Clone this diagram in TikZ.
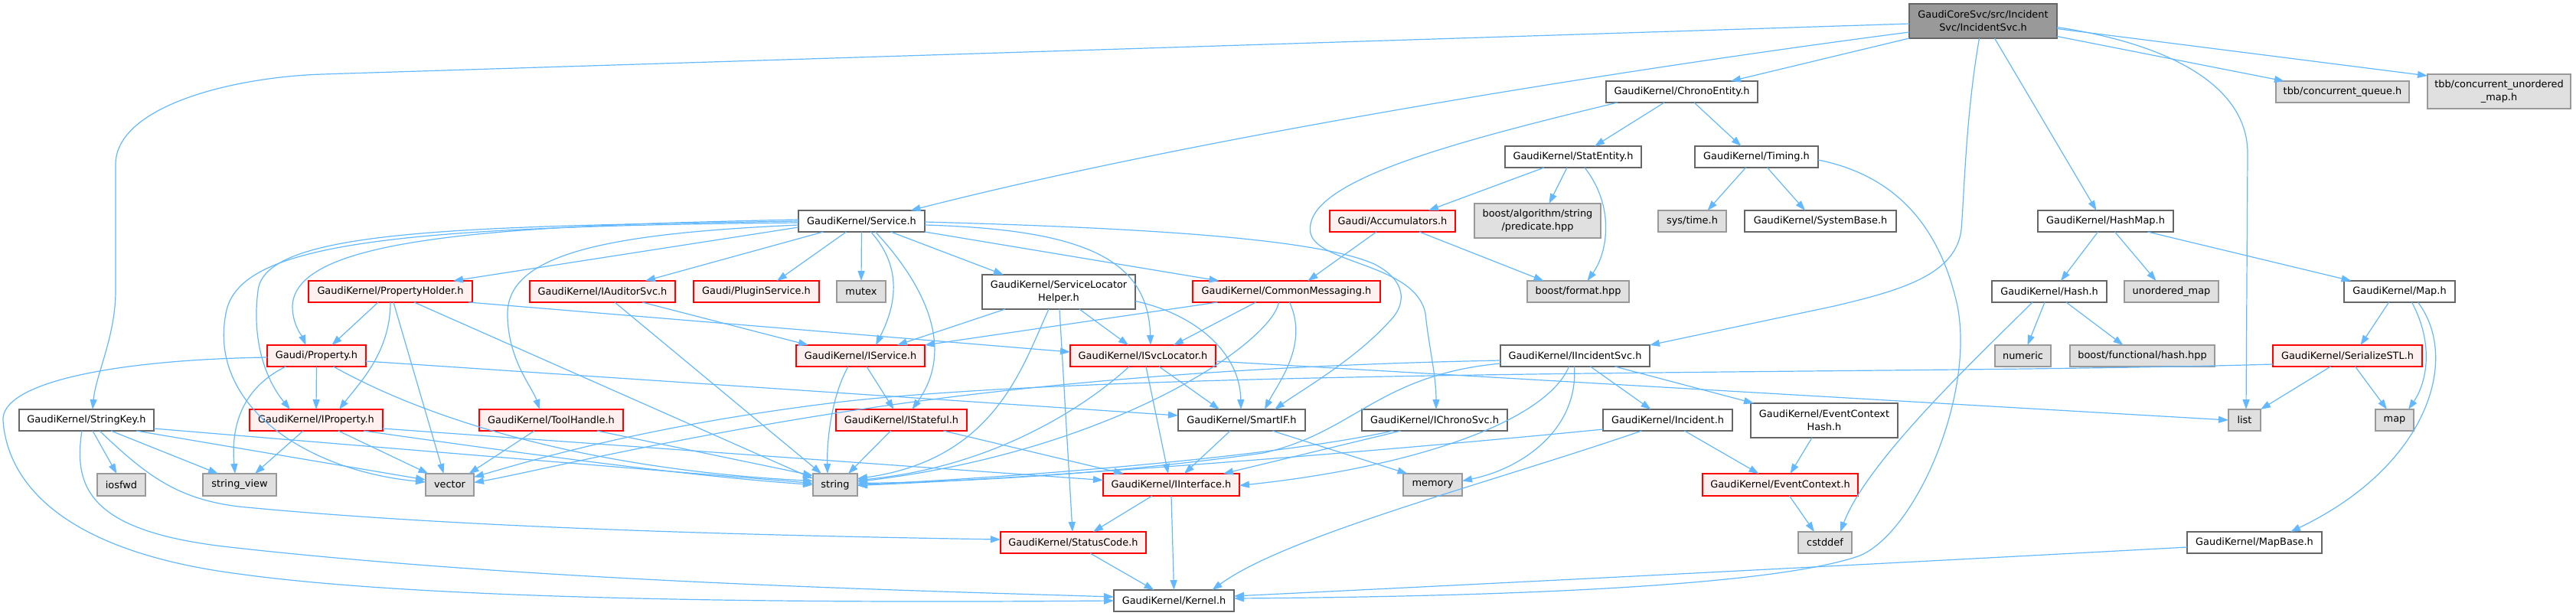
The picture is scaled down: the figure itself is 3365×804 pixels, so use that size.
\documentclass[tikz,border=0pt]{standalone}
\usepackage{fontspec}
\setmainfont{DejaVu Sans}
\usetikzlibrary{arrows.meta}
\definecolor{edgeblue}{HTML}{63B8FF}
\definecolor{nodegray}{HTML}{666666}
\definecolor{extdraw}{HTML}{999999}
\definecolor{extfill}{HTML}{E0E0E0}
\definecolor{truncfill}{HTML}{FFF0F0}
\definecolor{rootfill}{HTML}{999999}
\tikzset{
  nodebase/.style={draw, line width=1.3pt, minimum height=28pt, inner sep=0pt, outer sep=0pt,
    font=\fontsize{12.9}{16.7}\selectfont, align=center, text=black},
  nrm/.style={nodebase, draw=nodegray, fill=white},
  trunc/.style={nodebase, draw=red, fill=truncfill},
  extn/.style={nodebase, draw=extdraw, fill=extfill},
  rootn/.style={nodebase, draw=nodegray, fill=rootfill},
  dep/.style={draw=edgeblue, line width=1.2pt, -{Triangle[length=13pt,width=9pt]}}
}
\begin{document}
\begin{tikzpicture}[x=1pt,y=-1pt]
\useasboundingbox (0,0) rectangle (3365,804);
% nodes
\node[rootn, minimum width=193pt, minimum height=45pt] (root) at (2590.5,27.5) {GaudiCoreSvc/src/Incident\\Svc/IncidentSvc.h};
\node[nrm, minimum width=198pt] (ChronoEntity) at (2197,120) {GaudiKernel/ChronoEntity.h};
\node[extn, minimum width=174pt] (tbbq) at (3060,120) {tbb/concurrent\_queue.h};
\node[extn, minimum width=187pt, minimum height=45pt] (tbbum) at (3264.5,119.5) {tbb/concurrent\_unordered\\\_map.h};
\node[nrm, minimum width=178pt] (StatEntity) at (2055,205) {GaudiKernel/StatEntity.h};
\node[nrm, minimum width=161pt] (Timing) at (2294.5,205) {GaudiKernel/Timing.h};
\node[nrm, minimum width=165pt] (Service) at (1125.5,289) {GaudiKernel/Service.h};
\node[trunc, minimum width=164pt] (Accumulators) at (1819,289) {Gaudi/Accumulators.h};
\node[extn, minimum width=165pt, minimum height=45pt] (boostalg) at (2008.5,288.5) {boost/algorithm/string\\/predicate.hpp};
\node[extn, minimum width=89pt] (systime) at (2210.5,289) {sys/time.h};
\node[nrm, minimum width=198pt] (SystemBase) at (2378,289) {GaudiKernel/SystemBase.h};
\node[nrm, minimum width=177pt] (HashMap) at (2750.5,289) {GaudiKernel/HashMap.h};
\node[trunc, minimum width=214pt] (PropertyHolder) at (510,381) {GaudiKernel/PropertyHolder.h};
\node[trunc, minimum width=190pt] (IAuditorSvc) at (787,381) {GaudiKernel/IAuditorSvc.h};
\node[trunc, minimum width=164pt] (PluginService) at (988,381) {Gaudi/PluginService.h};
\node[extn, minimum width=64pt] (mutex) at (1125,381) {mutex};
\node[nrm, minimum width=200pt, minimum height=45pt] (SLH) at (1383,381.5) {GaudiKernel/ServiceLocator\\Helper.h};
\node[trunc, minimum width=245pt] (CommonMessaging) at (1680.5,381) {GaudiKernel/CommonMessaging.h};
\node[extn, minimum width=133pt] (boostformat) at (2061.5,381) {boost/format.hpp};
\node[nrm, minimum width=150pt] (Hash) at (2677,381) {GaudiKernel/Hash.h};
\node[extn, minimum width=123pt] (unorderedmap) at (2836.5,381) {unordered\_map};
\node[nrm, minimum width=145pt] (Map) at (3134.5,381) {GaudiKernel/Map.h};
\node[trunc, minimum width=129pt] (Property) at (413.5,465) {Gaudi/Property.h};
\node[trunc, minimum width=168pt] (IService) at (1124,465) {GaudiKernel/IService.h};
\node[trunc, minimum width=190pt] (ISvcLocator) at (1493,465) {GaudiKernel/ISvcLocator.h};
\node[nrm, minimum width=195pt] (IIncidentSvc) at (2057.5,465) {GaudiKernel/IIncidentSvc.h};
\node[extn, minimum width=73pt] (numeric) at (2642.5,465) {numeric};
\node[extn, minimum width=189pt] (boostfunc) at (2798.5,465) {boost/functional/hash.hpp};
\node[trunc, minimum width=195pt] (SerializeSTL) at (3066.5,465) {GaudiKernel/SerializeSTL.h};
\node[nrm, minimum width=176pt] (StringKey) at (113,549) {GaudiKernel/StringKey.h};
\node[trunc, minimum width=174pt] (IProperty) at (413,549) {GaudiKernel/IProperty.h};
\node[trunc, minimum width=188pt] (ToolHandle) at (720,549) {GaudiKernel/ToolHandle.h};
\node[trunc, minimum width=171pt] (IStateful) at (1177.5,549) {GaudiKernel/IStateful.h};
\node[nrm, minimum width=166pt] (SmartIF) at (1622,549) {GaudiKernel/SmartIF.h};
\node[nrm, minimum width=190pt] (IChronoSvc) at (1874,549) {GaudiKernel/IChronoSvc.h};
\node[nrm, minimum width=169pt] (Incident) at (2178.5,549) {GaudiKernel/Incident.h};
\node[nrm, minimum width=192pt, minimum height=45pt] (EventContextHash) at (2383,549.5) {GaudiKernel/EventContext\\Hash.h};
\node[extn, minimum width=42pt] (list) at (2932,549) {list};
\node[extn, minimum width=50pt] (map) at (3128,549) {map};
\node[extn, minimum width=63pt, minimum height=29pt] (iosfwd) at (158.5,633.5) {iosfwd};
\node[extn, minimum width=96pt, minimum height=29pt] (stringview) at (313,633.5) {string\_view};
\node[extn, minimum width=63pt, minimum height=29pt] (vector) at (587.5,633.5) {vector};
\node[extn, minimum width=58pt, minimum height=29pt] (string) at (1091,633.5) {string};
\node[trunc, minimum width=178pt, minimum height=29pt] (IInterface) at (1530,633.5) {GaudiKernel/IInterface.h};
\node[extn, minimum width=77pt, minimum height=29pt] (memory) at (1871.5,633.5) {memory};
\node[trunc, minimum width=203pt, minimum height=29pt] (EventContext) at (2325.5,633.5) {GaudiKernel/EventContext.h};
\node[trunc, minimum width=190pt] (StatusCode) at (1402,709) {GaudiKernel/StatusCode.h};
\node[extn, minimum width=70pt] (cstddef) at (2384,709) {cstddef};
\node[nrm, minimum width=176pt] (MapBase) at (2945,709) {GaudiKernel/MapBase.h};
\node[nrm, minimum width=157pt] (Kernel) at (1533.5,785) {GaudiKernel/Kernel.h};

% root
\draw[dep] ([yshift=-3.5pt]root.west) .. controls (1600,60) and (800,85) .. (421,97) .. controls (300,101) and (151,140) .. (151,215) -- (151,380) .. controls (151,440) and (125,490) .. ([xshift=8pt]StringKey.north);
\draw[dep] ([yshift=-14.5pt]root.west) .. controls (2200,80) and (1600,170) .. ([xshift=64pt]Service.north);
\draw[dep] (root.south west) -- ([xshift=64pt]ChronoEntity.north);
\draw[dep] ([xshift=-5pt]root.south) .. controls (2568,150) and (2566,250) .. (2562,300) .. controls (2555,360) and (2480,380) .. (2396,400) -- (IIncidentSvc.north east);
\draw[dep] ([xshift=15pt]root.south) -- ([xshift=-12pt]HashMap.north);
\draw[dep] ([yshift=-8pt]root.east) .. controls (2850,60) and (2936,120) .. (2936,200) -- ([xshift=2pt]list.north);
\draw[dep] ([yshift=-20pt]root.east) -- ([xshift=-76pt]tbbq.north);
\draw[dep] ([yshift=-10pt]root.east) -- ([yshift=-2pt]tbbum.north west);
% ChronoEntity
\draw[dep] ([xshift=-23pt]ChronoEntity.south) -- ([xshift=28pt]StatEntity.north);
\draw[dep] ([xshift=16pt]ChronoEntity.south) -- ([xshift=-20pt]Timing.north);
\draw[dep] ([xshift=-84pt]ChronoEntity.south) .. controls (1880,190) and (1700,240) .. (1712,305) .. controls (1722,345) and (1850,345) .. (1862,410) .. controls (1866,450) and (1876,490) .. ([xshift=2pt]IChronoSvc.north);
% StatEntity
\draw[dep] ([xshift=-38pt]StatEntity.south) -- ([xshift=47pt]Accumulators.north);
\draw[dep] ([xshift=-8pt]StatEntity.south) -- ([xshift=15pt]boostalg.north);
\draw[dep] ([xshift=15pt]StatEntity.south) .. controls (2110,270) and (2100,330) .. ([xshift=12pt]boostformat.north);
% Timing
\draw[dep] ([xshift=-14pt]Timing.south) -- ([xshift=20pt]systime.north);
\draw[dep] ([xshift=14pt]Timing.south) -- ([xshift=-20pt]SystemBase.north);
\draw[dep] ([yshift=-4pt]Timing.east) .. controls (2480,230) and (2535,300) .. (2557,400) .. controls (2580,520) and (2500,700) .. (2427,727) .. controls (2300,770) and (1900,780) .. ([yshift=3pt]Kernel.east);
% HashMap
\draw[dep] ([xshift=-10pt]HashMap.south) -- ([xshift=15pt]Hash.north);
\draw[dep] ([xshift=12pt]HashMap.south) -- ([xshift=-20pt]unorderedmap.north);
\draw[dep] ([xshift=55pt]HashMap.south) -- ([xshift=-63pt]Map.north);
% Hash
\draw[dep] ([xshift=-6pt]Hash.south) -- ([xshift=6pt]numeric.north);
\draw[dep] ([xshift=22pt]Hash.south) -- ([xshift=-25pt]boostfunc.north);
\draw[dep] ([xshift=-22pt]Hash.south) .. controls (2590,460) and (2440,600) .. ([xshift=20pt]cstddef.north);
% Map
\draw[dep] ([xshift=-14pt]Map.south) -- ([xshift=17pt]SerializeSTL.north);
\draw[dep] ([xshift=16pt]Map.south) .. controls (3180,450) and (3170,500) .. ([xshift=18pt]map.north);
\draw[dep] ([xshift=24pt]Map.south) .. controls (3215,470) and (3170,610) .. ([xshift=47pt]MapBase.north);
% SerializeSTL
\draw[dep] ([xshift=-22pt]SerializeSTL.south) -- (list.north east);
\draw[dep] ([xshift=10pt]SerializeSTL.south) -- ([xshift=-10pt]map.north);
\draw[dep] ([yshift=-11pt]SerializeSTL.west) .. controls (2500,490) and (1500,480) .. (1100,525) .. controls (850,555) and (700,600) .. ([yshift=10pt]vector.east);
% IIncidentSvc
\draw[dep] ([yshift=-6pt]IIncidentSvc.west) .. controls (1500,480) and (1200,520) .. (1000,555) .. controls (800,590) and (680,620) .. ([yshift=3pt]vector.east);
\draw[dep] ([yshift=-10pt]IIncidentSvc.west) .. controls (1800,490) and (1770,565) .. (1650,592) .. controls (1450,620) and (1250,630) .. ([yshift=2pt]string.east);
\draw[dep] ([xshift=-8pt]IIncidentSvc.south) .. controls (2020,550) and (1850,610) .. ([yshift=-1pt]IInterface.east);
\draw[dep] ([xshift=-1pt]IIncidentSvc.south) .. controls (2062,560) and (1990,612) .. ([yshift=5pt]memory.east);
\draw[dep] ([xshift=20pt]IIncidentSvc.south) -- ([xshift=-22pt]Incident.north);
\draw[dep] ([xshift=52pt]IIncidentSvc.south) -- ([xshift=4pt]EventContextHash.north west);
% Incident
\draw[dep] ([yshift=-12pt]Incident.west) .. controls (1800,590) and (1400,622) .. ([yshift=-1pt]string.east);
\draw[dep] ([xshift=-34pt]Incident.south) .. controls (1950,630) and (1680,700) .. ([xshift=50pt]Kernel.north);
\draw[dep] ([xshift=22pt]Incident.south) -- ([xshift=-28pt]EventContext.north);
\draw[dep] ([xshift=-16pt]EventContextHash.south) -- ([xshift=13pt]EventContext.north);
\draw[dep] ([xshift=12pt]EventContext.south) -- ([xshift=-14pt]cstddef.north);
\draw[dep] ([yshift=-6pt]MapBase.west) .. controls (2400,740) and (1900,765) .. ([yshift=6pt]Kernel.east);
% Accumulators
\draw[dep] ([xshift=-21pt]Accumulators.south) -- ([xshift=28pt]CommonMessaging.north);
\draw[dep] ([xshift=35pt]Accumulators.south) -- ([xshift=-45pt]boostformat.north);
% Service
\draw[dep] ([yshift=-8pt]Service.west) -- ([xshift=82pt]PropertyHolder.north);
\draw[dep] ([xshift=-50pt]Service.south) -- ([xshift=56pt]IAuditorSvc.north);
\draw[dep] ([xshift=-20pt]Service.south) -- ([xshift=27pt]PluginService.north);
\draw[dep] (Service.south) -- (mutex.north);
\draw[dep] ([xshift=12pt]Service.south) .. controls (1180,350) and (1170,400) .. ([xshift=20pt]IService.north);
\draw[dep] ([xshift=18pt]Service.south) .. controls (1215,380) and (1245,460) .. ([xshift=14pt]IStateful.north);
\draw[dep] ([xshift=38pt]Service.south) -- ([xshift=-72pt]SLH.north);
\draw[dep] (Service.south east) -- ([xshift=-88pt]CommonMessaging.north);
\draw[dep] ([yshift=-5pt]Service.east) .. controls (1420,300) and (1500,340) .. ([xshift=10pt]ISvcLocator.north);
\draw[dep] ([yshift=-1pt]Service.east) .. controls (1500,298) and (1720,312) .. (1795,345) .. controls (1835,365) and (1840,395) .. (1815,420) .. controls (1770,470) and (1700,510) .. ([xshift=43pt]SmartIF.north);
\draw[dep] ([yshift=2pt]Service.west) .. controls (650,295) and (385,310) .. (382,400) .. controls (382,425) and (395,440) .. ([xshift=-14pt]Property.north);
\draw[dep] (Service.west) .. controls (600,296) and (345,300) .. (337,380) .. controls (328,450) and (350,500) .. ([xshift=-34pt]IProperty.north);
\draw[dep] ([yshift=-2pt]Service.west) .. controls (500,296) and (310,320) .. (295,410) .. controls (272,530) and (400,615) .. ([yshift=3.5pt]vector.west);
\draw[dep] ([yshift=-5pt]Service.west) .. controls (800,305) and (663,330) .. (663,410) .. controls (663,470) and (695,505) .. ([xshift=-15pt]ToolHandle.north);
% PropertyHolder
\draw[dep] ([xshift=-16pt]PropertyHolder.south) -- ([xshift=20pt]Property.north);
\draw[dep] (PropertyHolder.south) .. controls (510,460) and (470,500) .. ([xshift=30pt]IProperty.north);
\draw[dep] ([xshift=4pt]PropertyHolder.south) -- ([xshift=-8pt]vector.north);
\draw[dep] ([xshift=31pt]PropertyHolder.south) -- ([yshift=8pt]string.west);
\draw[dep] ([xshift=102pt]PropertyHolder.south) -- ([yshift=5pt]ISvcLocator.west);
% IAuditorSvc
\draw[dep] ([xshift=52pt]IAuditorSvc.south) -- ([xshift=-68pt]IService.north);
\draw[dep] ([xshift=16pt]IAuditorSvc.south) -- ([xshift=-18pt]string.north);
% Property
\draw[dep] ([xshift=-40pt]Property.south) .. controls (330,500) and (300,540) .. ([xshift=-6pt]stringview.north);
\draw[dep] (Property.south) -- (IProperty.north);
\draw[dep] ([xshift=22pt]Property.south) .. controls (580,560) and (800,615) .. ([yshift=5pt]string.west);
\draw[dep] ([yshift=-7pt]Property.east) -- ([yshift=6pt]SmartIF.west);
\draw[dep] ([yshift=-2pt]Property.west) .. controls (150,470) and (0,500) .. (4,550) .. controls (10,630) and (80,720) .. (312,750) .. controls (600,790) and (1200,787) .. (Kernel.west);
% IProperty
\draw[dep] ([xshift=-17pt]IProperty.south) -- ([xshift=20pt]stringview.north);
\draw[dep] ([xshift=29pt]IProperty.south) -- ([xshift=-28pt]vector.north);
\draw[dep] ([xshift=62pt]IProperty.south) .. controls (700,595) and (900,622) .. (string.west);
\draw[dep] ([yshift=-11pt]IProperty.east) -- ([yshift=6pt]IInterface.west);
% StringKey
\draw[dep] ([xshift=-6pt]StringKey.south) .. controls (95,640) and (120,695) .. (300,715) .. controls (700,760) and (1200,772) .. ([yshift=5pt]Kernel.west);
\draw[dep] ([xshift=8pt]StringKey.south) -- ([xshift=-6pt]iosfwd.north);
\draw[dep] ([xshift=17pt]StringKey.south) .. controls (190,620) and (230,652) .. (312,662) .. controls (600,690) and (1000,700) .. ([yshift=4pt]StatusCode.west);
\draw[dep] ([xshift=32pt]StringKey.south) -- ([xshift=-28pt]stringview.north);
\draw[dep] ([xshift=65pt]StringKey.south) -- ([yshift=6.5pt]vector.west);
\draw[dep] ([yshift=-11pt]StringKey.east) -- ([yshift=2pt]string.west);
% ToolHandle
\draw[dep] ([xshift=-22pt]ToolHandle.south) -- ([xshift=25pt]vector.north);
\draw[dep] ([xshift=60pt]ToolHandle.south) -- ([yshift=12pt]string.west);
% IService
\draw[dep] ([xshift=-16pt]IService.south) .. controls (1085,520) and (1080,580) .. ([xshift=-10pt]string.north);
\draw[dep] ([xshift=8pt]IService.south) -- ([xshift=-10pt]IStateful.north);
% IStateful
\draw[dep] ([xshift=-14pt]IStateful.south) -- ([xshift=17pt]string.north);
\draw[dep] ([xshift=55pt]IStateful.south) -- ([xshift=-62pt]IInterface.north);
% ServiceLocatorHelper
\draw[dep] ([xshift=-70pt]SLH.south) -- ([xshift=48pt]IService.north);
\draw[dep] ([xshift=-13pt]SLH.south) .. controls (1335,480) and (1300,600) .. ([yshift=8pt]string.east);
\draw[dep] ([xshift=1pt]SLH.south) -- ([xshift=-1pt]StatusCode.north);
\draw[dep] ([xshift=27pt]SLH.south) -- ([xshift=-19pt]ISvcLocator.north);
\draw[dep] ([yshift=-12pt]SLH.east) .. controls (1560,410) and (1620,460) .. ([xshift=-1pt]SmartIF.north);
% ISvcLocator
\draw[dep] ([xshift=-18pt]ISvcLocator.south) .. controls (1420,530) and (1300,610) .. ([yshift=6pt]string.east);
\draw[dep] ([xshift=4pt]ISvcLocator.south) -- ([xshift=-4pt]IInterface.north);
\draw[dep] ([xshift=21pt]ISvcLocator.south) -- ([xshift=-29pt]SmartIF.north);
\draw[dep] ([yshift=-7pt]ISvcLocator.east) -- (list.west);
% CommonMessaging
\draw[dep] ([xshift=-90pt]CommonMessaging.south) -- (IService.north east);
\draw[dep] ([xshift=-40pt]CommonMessaging.south) -- ([xshift=40pt]ISvcLocator.north);
\draw[dep] ([xshift=-10pt]CommonMessaging.south) .. controls (1660,450) and (1450,590) .. ([yshift=4pt]string.east);
\draw[dep] ([xshift=4pt]CommonMessaging.south) .. controls (1710,450) and (1670,500) .. ([xshift=30pt]SmartIF.north);
% IChronoSvc
\draw[dep] ([xshift=-54pt]IChronoSvc.south) .. controls (1650,600) and (1300,625) .. (string.east);
\draw[dep] ([xshift=-44pt]IChronoSvc.south) -- ([xshift=68pt]IInterface.north);
% SmartIF
\draw[dep] ([xshift=-15pt]SmartIF.south) -- ([xshift=17pt]IInterface.north);
\draw[dep] ([xshift=40pt]SmartIF.south) -- ([xshift=-33pt]memory.north);
% IInterface, StatusCode
\draw[dep] ([xshift=-25pt]IInterface.south) -- ([xshift=26pt]StatusCode.north);
\draw[dep] (IInterface.south) -- (Kernel.north);
\draw[dep] ([xshift=22pt]StatusCode.south) -- ([xshift=-26pt]Kernel.north);
\end{tikzpicture}
\end{document}
